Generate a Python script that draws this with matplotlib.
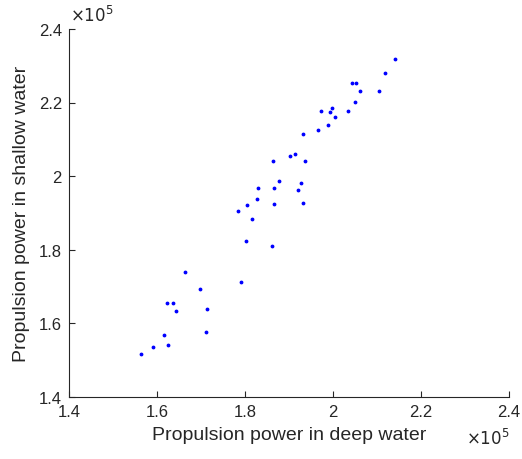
import matplotlib.pyplot as plt
import matplotlib.ticker as mticker

plt.rcParams['font.family'] = ['Liberation Sans', 'DejaVu Sans']

# propulsion power values (W)
deep_water = [
    1.563, 1.592, 1.615, 1.626, 1.623, 1.636, 1.643, 1.663, 1.697, 1.711,
    1.713, 1.790, 1.802, 1.784, 1.804, 1.816, 1.827, 1.830, 1.861, 1.864,
    1.865, 1.867, 1.878, 1.902, 1.914, 1.920, 1.928, 1.931, 1.936, 1.933,
    1.965, 1.973, 1.989, 1.994, 1.999, 2.005, 2.035, 2.043, 2.050, 2.052,
    2.061, 2.105, 2.119, 2.141,
]
shallow_water = [
    1.516, 1.535, 1.568, 1.540, 1.655, 1.655, 1.634, 1.739, 1.692, 1.577,
    1.639, 1.712, 1.823, 1.904, 1.921, 1.883, 1.938, 1.967, 1.810, 2.040,
    1.969, 1.924, 1.986, 2.054, 2.061, 1.962, 1.981, 1.927, 2.040, 2.115,
    2.126, 2.178, 2.140, 2.175, 2.185, 2.160, 2.177, 2.252, 2.202, 2.252,
    2.231, 2.232, 2.280, 2.317,
]
deep_water = [v * 1e5 for v in deep_water]
shallow_water = [v * 1e5 for v in shallow_water]

ink = '#262626'

fig = plt.figure(figsize=(5.22, 4.6), dpi=100)
ax = fig.add_axes([0.132, 0.135, 0.843, 0.80])

ax.plot(deep_water, shallow_water, '.', color='blue', markersize=3.5)

ax.set_xlim(1.4e5, 2.4e5)
ax.set_ylim(1.4e5, 2.4e5)
ax.set_xticks([1.4e5, 1.6e5, 1.8e5, 2.0e5, 2.2e5, 2.4e5])
ax.set_yticks([1.4e5, 1.6e5, 1.8e5, 2.0e5, 2.2e5, 2.4e5])
fmt = mticker.FuncFormatter(lambda v, _: f"{v / 1e5:g}")
ax.xaxis.set_major_formatter(fmt)
ax.yaxis.set_major_formatter(fmt)

ax.spines['top'].set_visible(False)
ax.spines['right'].set_visible(False)
for s in ('left', 'bottom'):
    ax.spines[s].set_color(ink)
    ax.spines[s].set_linewidth(0.8)
ax.tick_params(direction='in', length=4, width=0.8, colors=ink, labelsize=12, pad=5)

ax.set_xlabel("Propulsion power in deep water", fontsize=14, color=ink, labelpad=5)
ax.set_ylabel("Propulsion power in shallow water", fontsize=14, color=ink, labelpad=6)

fig.text(0.134, 0.945, r"$\times10^{5}$", fontsize=12, color=ink, ha='left', va='bottom',
         math_fontfamily='dejavusans')
fig.text(0.977, 0.025, r"$\times10^{5}$", fontsize=12, color=ink, ha='right', va='bottom',
         math_fontfamily='dejavusans')

fig.savefig("out.png", dpi=100)
